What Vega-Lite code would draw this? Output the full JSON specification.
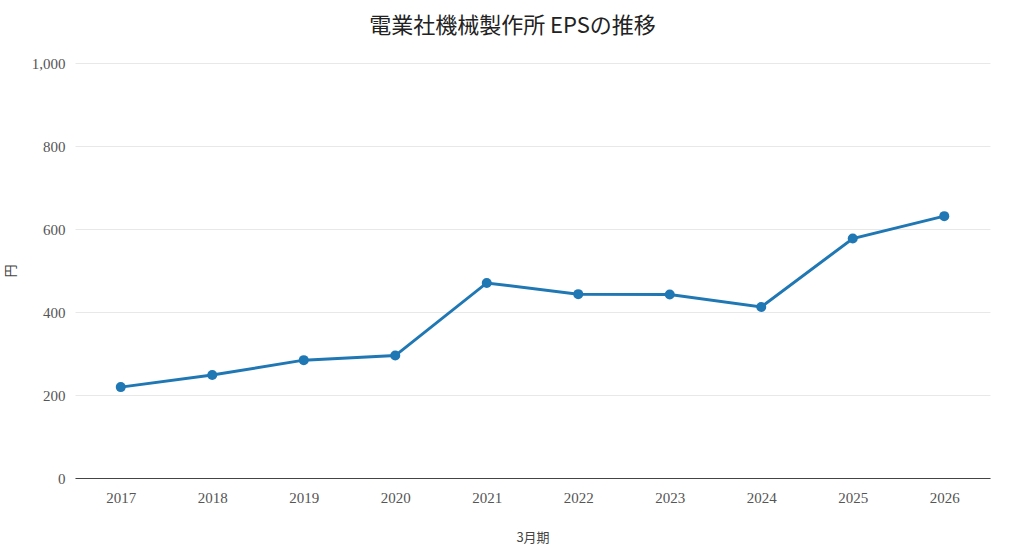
{
  "$schema": "https://vega.github.io/schema/vega-lite/v6.json",
  "width": 915,
  "height": 415,
  "autosize": "none",
  "padding": {"left": 75, "top": 63, "right": 34, "bottom": 81},
  "title": {
    "text": "電業社機械製作所 EPSの推移",
    "font": "Noto Sans CJK JP",
    "fontSize": 22,
    "fontWeight": "normal",
    "color": "#222222",
    "offset": 18,
    "dx": -20
  },
  "data": {
    "values": [
      {"year": "2017", "eps": 219},
      {"year": "2018", "eps": 248},
      {"year": "2019", "eps": 284},
      {"year": "2020", "eps": 295},
      {"year": "2021", "eps": 470},
      {"year": "2022", "eps": 443},
      {"year": "2023", "eps": 442},
      {"year": "2024", "eps": 412},
      {"year": "2025", "eps": 577},
      {"year": "2026", "eps": 631}
    ]
  },
  "mark": {
    "type": "line",
    "color": "#1f77b4",
    "strokeWidth": 3,
    "point": {"filled": true, "size": 100, "color": "#1f77b4", "opacity": 1}
  },
  "encoding": {
    "x": {
      "field": "year",
      "type": "ordinal",
      "title": "3月期",
      "scale": {"type": "point", "padding": 0.5},
      "axis": {
        "labelAngle": 0,
        "ticks": false,
        "grid": false,
        "domainColor": "#444444",
        "domainWidth": 1,
        "labelFont": "Liberation Serif",
        "labelFontSize": 15,
        "labelColor": "#555555",
        "labelPadding": 12,
        "titleFont": "Noto Sans CJK JP",
        "titleFontSize": 13,
        "titleFontWeight": "normal",
        "titleColor": "#444444",
        "titlePadding": 26
      }
    },
    "y": {
      "field": "eps",
      "type": "quantitative",
      "title": "円",
      "scale": {"domain": [0, 1000]},
      "axis": {
        "values": [0, 200, 400, 600, 800, 1000],
        "format": ",.0f",
        "ticks": false,
        "domain": false,
        "gridColor": "#e8e8e8",
        "labelFont": "Liberation Serif",
        "labelFontSize": 15,
        "labelColor": "#555555",
        "labelPadding": 10,
        "titleFont": "Noto Sans CJK JP",
        "titleFontSize": 13,
        "titleFontWeight": "normal",
        "titleColor": "#444444",
        "titlePadding": 14
      }
    }
  },
  "config": {
    "view": {"stroke": "transparent"}
  }
}
